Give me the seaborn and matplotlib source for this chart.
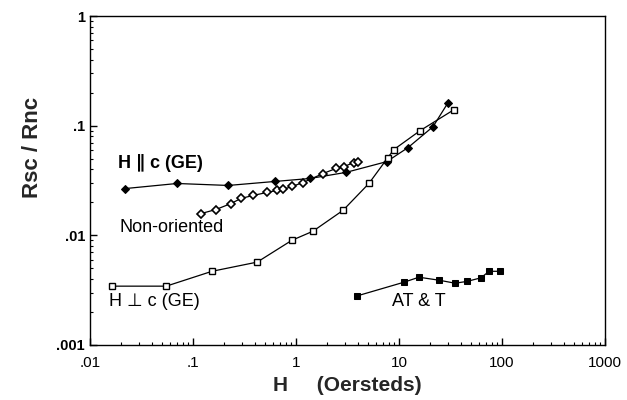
import pandas as pd
import matplotlib
matplotlib.use("Agg")
import matplotlib.pyplot as plt
import matplotlib.ticker as mticker
import seaborn as sns

# H || c (GE) - filled diamonds
par_h = [0.022, 0.07, 0.22, 0.625, 1.37, 3.06, 7.6, 12.2, 21.4, 29.9]
par_r = [0.0267, 0.0297, 0.0285, 0.031, 0.033, 0.0375, 0.047, 0.063, 0.098, 0.162]

# Non-oriented - open diamonds
non_h = [0.12, 0.167, 0.234, 0.292, 0.383, 0.522, 0.655, 0.748, 0.914, 1.17,
         1.83, 2.44, 2.92, 3.66, 4.0]
non_r = [0.0158, 0.0172, 0.0195, 0.0217, 0.0231, 0.0246, 0.0257, 0.0262, 0.0279,
         0.0303, 0.0366, 0.0407, 0.0424, 0.0461, 0.0471]

# H _|_ c (GE) - open squares
perp_h = [0.0164, 0.055, 0.153, 0.42, 0.91, 1.46, 2.86, 5.1, 7.8, 8.9, 16, 34.2]
perp_r = [0.00344, 0.00344, 0.0047, 0.0057, 0.009, 0.0109, 0.0169, 0.0297,
          0.0512, 0.0605, 0.090, 0.14]

# AT & T - filled squares
att_h = [3.9, 11.2, 15.6, 24.4, 35, 45.7, 62.5, 74.8, 95]
att_r = [0.0028, 0.00374, 0.00415, 0.0039, 0.00366, 0.0038, 0.0041, 0.0047, 0.0047]

x_ticks = [0.01, 0.1, 1, 10, 100, 1000]
x_labels = [".01", ".1", "1", "10", "100", "1000"]
y_ticks = [0.001, 0.01, 0.1, 1]
y_labels = [".001", ".01", ".1", "1"]

sns.set_theme(style="ticks")
plt.rcParams["font.family"] = ["Liberation Sans", "DejaVu Sans"]

fig = plt.figure(figsize=(6.27, 4.0), dpi=100)
ax = fig.add_axes([0.1435, 0.1375, 0.8215, 0.8225])

series = [
    (par_h, par_r, dict(marker="D", markersize=4, markerfacecolor="black")),
    (non_h, non_r, dict(marker="D", markersize=4, markerfacecolor="white", markeredgewidth=1.2)),
    (perp_h, perp_r, dict(marker="s", markersize=5, markerfacecolor="white", markeredgewidth=1.0)),
    (att_h, att_r, dict(marker="s", markersize=5, markerfacecolor="black")),
]
for h, r, style in series:
    df = pd.DataFrame({"H": h, "R": r})
    sns.lineplot(data=df, x="H", y="R", ax=ax, sort=False, estimator=None,
                 color="black", linewidth=0.9, markeredgecolor="black", **style)

# dot in the middle of the open squares
sns.scatterplot(x=perp_h, y=perp_r, ax=ax, color="black", s=2, linewidth=0)

ax.set_xscale("log")
ax.set_yscale("log")
ax.set_xlim(0.01, 1000)
ax.set_ylim(0.001, 1)

ax.set_xticks(x_ticks)
ax.set_xticklabels(x_labels, fontsize=11)
ax.set_yticks(y_ticks)
ax.set_yticklabels(y_labels, fontsize=10.5, fontweight="bold")
ax.xaxis.set_minor_locator(mticker.LogLocator(base=10, subs=range(2, 10), numticks=20))
ax.yaxis.set_minor_locator(mticker.LogLocator(base=10, subs=range(2, 10), numticks=20))
ax.xaxis.set_minor_formatter(mticker.NullFormatter())
ax.yaxis.set_minor_formatter(mticker.NullFormatter())
ax.tick_params(which="major", direction="in", length=5, width=1, colors="black")
ax.tick_params(axis="x", which="major", pad=8)
ax.tick_params(which="minor", direction="in", length=2.5, width=0.8, colors="black")

for side in ["left", "bottom", "top", "right"]:
    ax.spines[side].set_linewidth(1.0)
    ax.spines[side].set_color("black")

ax.set_xlabel("H     (Oersteds)", fontsize=15, fontweight="bold", labelpad=4)
ax.set_ylabel("Rsc / Rnc", fontsize=16, fontweight="bold", labelpad=14)
ax.yaxis.set_label_coords(-0.092, 0.60)

label_kw = dict(fontsize=13, ha="center", va="center", color="black")
ax.text(0.0478, 0.046, "H \u2225 c (GE)", fontweight="bold", **label_kw)
ax.text(0.0625, 0.0118, "Non-oriented", **label_kw)
ax.text(0.0418, 0.0025, "H \u22a5 c (GE)", **label_kw)
ax.text(15.6, 0.0025, "AT & T", **label_kw)

fig.savefig("out.png", dpi=100, facecolor="white")
